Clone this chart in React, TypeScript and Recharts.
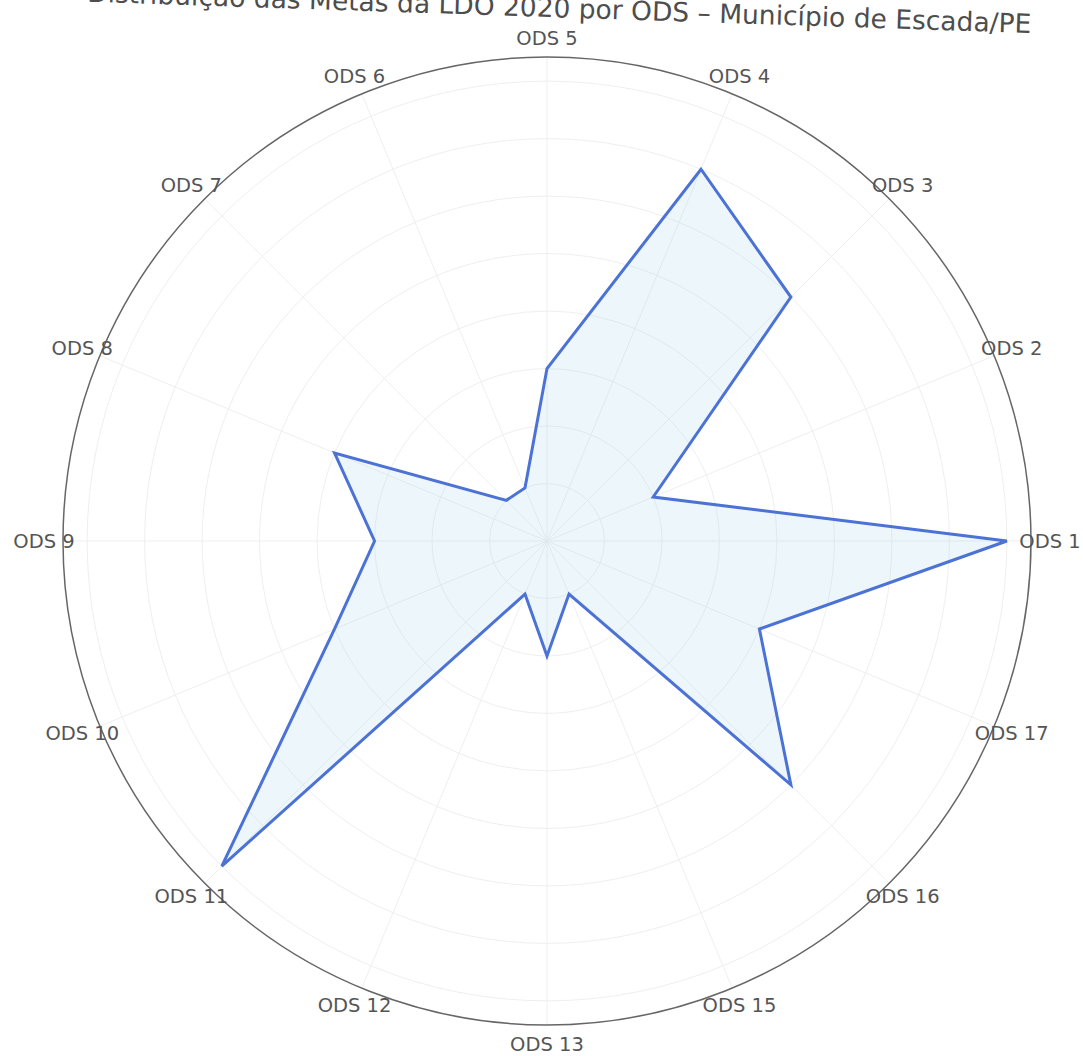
import React from 'react';
import { RadarChart, Radar, PolarGrid, PolarAngleAxis, PolarRadiusAxis } from 'recharts';

// ODS 14 has no entry in the source chart
const categories = [
    'ODS 1', 'ODS 2', 'ODS 3', 'ODS 4', 'ODS 5', 'ODS 6', 'ODS 7', 'ODS 8',
    'ODS 9', 'ODS 10', 'ODS 11', 'ODS 12', 'ODS 13', 'ODS 15', 'ODS 16', 'ODS 17',
];
const metas = [8, 2, 6, 7, 3, 1, 1, 4, 3, 4, 8, 1, 2, 1, 6, 4];
const radiusTicks = [0, 1, 2, 3, 4, 5, 6, 7, 8];
const radiusMax = 8.42;

const title = 'Distribuição das Metas da LDO 2020 por ODS – Município de Escada/PE';

// numeric angle axis (index -> angle): the category band offsets in recharts
// don't line up ticks and polygon when going counter-clockwise
const data = categories.map((ods, i) => ({ pos: i, ods, metas: metas[i] }));
const angleTicks = categories.map((_, i) => i);

const FONT = '"DejaVu Sans", Verdana, sans-serif';

const AngleTick = (props: any) => {
    const { x, y, payload } = props;
    return (
        <text
            x={x}
            y={y}
            textAnchor="middle"
            dominantBaseline="central"
            fill="#555"
            fontSize={19.5}
            fontFamily={FONT}
        >
            {categories[payload.value]}
        </text>
    );
};

export default function App() {
    return (
        <div style={{ position: 'absolute', left: 0, top: 0, width: 1083, height: 1056, background: '#fff', overflow: 'hidden' }}>
            <RadarChart
                width={1083}
                height={1056}
                data={data}
                cx={547}
                cy={541}
                outerRadius={484}
                startAngle={0}
                endAngle={360}
                margin={{ top: 0, right: 0, bottom: 0, left: 0 }}
            >
                <PolarGrid gridType="circle" stroke="#efefef" strokeWidth={1} />
                <PolarRadiusAxis
                    domain={[0, radiusMax]}
                    ticks={radiusTicks}
                    tick={false}
                    axisLine={false}
                    angle={0}
                />
                <PolarAngleAxis
                    dataKey="pos"
                    type="number"
                    domain={[0, categories.length]}
                    ticks={angleTicks}
                    axisLineType="circle"
                    axisLine={{ stroke: '#666', strokeWidth: 1.5 }}
                    tickLine={false}
                    tickSize={19}
                    tick={AngleTick}
                />
                <Radar
                    dataKey="metas"
                    stroke="#4b72d4"
                    strokeWidth={3}
                    fill="#add8e6"
                    fillOpacity={0.22}
                    dot={false}
                    isAnimationActive={false}
                />
            </RadarChart>
            <svg width={1083} height={60} style={{ position: 'absolute', left: 0, top: 0 }}>
                <text
                    x={1031}
                    y={33}
                    textAnchor="end"
                    fontSize={26.5}
                    fontFamily={FONT}
                    fill="#4d4d4d"
                    transform="rotate(1.9 1031 33)"
                >
                    {title}
                </text>
            </svg>
        </div>
    );
}
